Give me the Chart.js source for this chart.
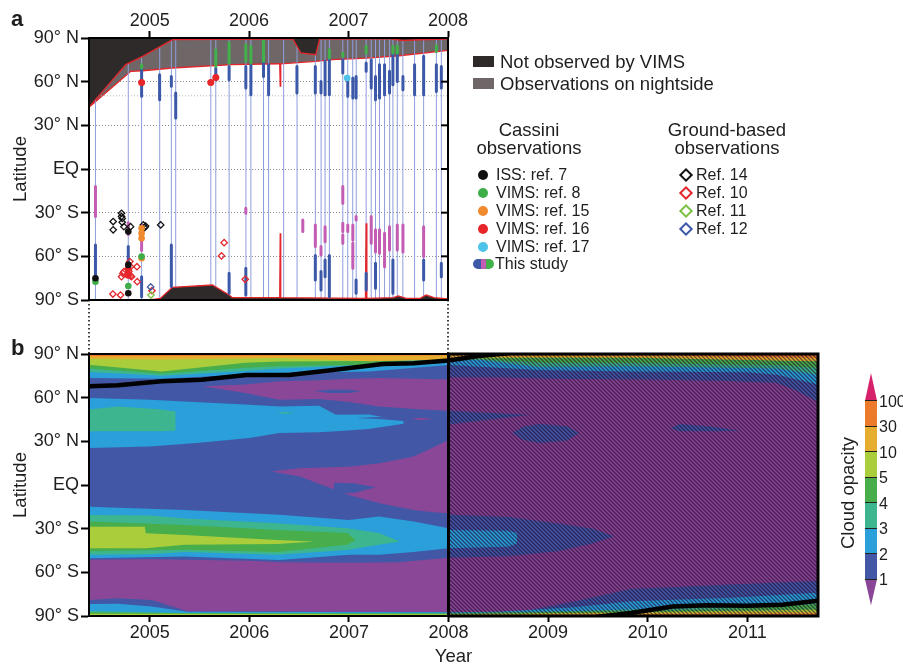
<!DOCTYPE html>
<html lang="en"><head><meta charset="utf-8"><title>Cloud opacity</title>
<script src="https://cdn.jsdelivr.net/npm/chart.js@4.4.1/dist/chart.umd.min.js"></script>
<style>
 html,body{margin:0;padding:0;background:#fff}
 body{position:relative;width:903px;height:666px;overflow:hidden;font-family:"Liberation Sans",Arial,Helvetica,sans-serif;color:#1e1e1e}
 canvas{position:absolute;left:0}
 #ca{top:0} #cb{top:330px}
 .t{position:absolute;white-space:nowrap;line-height:1}
 .lg{font-size:18.5px}
 .it{font-size:16px}
 .hd{font-size:18.5px;text-align:center;width:200px}
 .dot{position:absolute;width:10px;height:10px;border-radius:50%}
 .dia{position:absolute;width:6px;height:6px;border:2px solid;transform:rotate(45deg);background:#fff}
 .sw{position:absolute;width:21px;height:11px}
 .pl{font-weight:bold;font-size:22px}
 .cbs{position:absolute;left:865px;width:12px;box-sizing:border-box}
 .cbl{position:absolute;left:879px;font-size:16px;line-height:1}
</style></head><body>
<canvas id="ca" width="903" height="354"></canvas>
<canvas id="cb" width="903" height="336"></canvas>
<div id="overlay"></div>
<script>
// ================= DATA =================
const latTicks = [-90, -60, -30, 0, 30, 60, 90];
const latTickLabels = ['90° S', '60° S', '30° S', 'EQ', '30° N', '60° N', '90° N'];
const yearTicksA = [2005, 2006, 2007, 2008];
const yearTicksB = [2005, 2006, 2007, 2008, 2009, 2010, 2011];
const yearRangeA = [2004.39, 2008.0];
const yearRangeB = [2004.39, 2011.71];

// panel a: coverage boundaries [year, latitude]
const nightEdge = [[2004.39,42.5],[2004.81,67.1],[2004.93,67.5],[2005.23,69.4],[2005.83,71.7],[2006.30,72.3],[2006.308,72.3],[2006.313,57],[2006.318,72.3],[2006.67,74.0],[2006.84,75.1],[2007.18,76.2],[2007.51,77.8],[2008.0,81.5]];
const darkTopEdge = [[2004.39,42.5],[2004.76,71.7],[2004.93,77.4],[2005.23,88.9],[2006.30,89.3],[2006.44,89.3],[2006.52,79.7],[2006.67,78.5],[2006.71,89.3],[2007.4,89.5],[2007.55,88.3],[2007.7,88.8],[2008.0,89.3]];
const darkBottomEdge = [[2004.39,-90],[2005.0,-90],[2005.107,-88.9],[2005.228,-81.3],[2005.631,-79.7],[2005.799,-86.6],[2005.833,-88.4],[2006.308,-88.4],[2006.313,-44.1],[2006.318,-88.4],[2007.17,-88.9],[2007.177,-37.3],[2007.184,-88.9],[2007.45,-88.4],[2007.5,-87.2],[2007.58,-88.9],[2007.72,-88.9],[2007.78,-86.6],[2007.86,-88.4],[2008.0,-89.3]];
const lat50Line = [[2004.39,50.3],[2008.0,50.3]];
const vlineYears = [2004.455,2004.785,2004.919,2005.101,2005.218,2005.262,2005.615,2005.665,2005.799,2005.968,2006.018,2006.145,2006.196,2006.347,2006.482,2006.666,2006.724,2006.764,2006.807,2006.942,2006.992,2007.042,2007.077,2007.177,2007.228,2007.271,2007.311,2007.362,2007.413,2007.446,2007.490,2007.546,2007.664,2007.755,2007.883,2007.933];

// "This study" segments [year, lat1, lat2]
const studyBlue = [[2004.455,-52.2,-74.0],[2004.785,-53.3,-64.8],[2004.919,69.4,49.9],[2004.919,-74.0,-87.7],[2005.100,64.8,47.6],[2005.218,63.6,56.8],[2005.218,-52.2,-80.8],[2005.262,52.2,35.0],[2005.665,69.4,61.3],[2005.799,70.5,61.3],[2005.799,-71.7,-85.4],[2005.967,70.5,55.6],[2005.967,-68.2,-86.6],[2006.018,71.7,51.0],[2006.145,72.8,63.6],[2006.196,71.7,51.0],[2006.481,70.5,52.2],[2006.666,70.5,52.2],[2006.666,-59.5,-76.2],[2006.723,60.2,52.2],[2006.723,-70.5,-83.1],[2006.764,74.0,51.0],[2006.764,-62.5,-74.0],[2006.807,75.1,51.0],[2006.807,-59.5,-87.7],[2006.942,75.1,65.9],[2006.992,61.3,49.9],[2007.043,62.5,48.7],[2007.076,63.6,48.7],[2007.076,-76.2,-85.4],[2007.177,72.8,67.1],[2007.177,-71.7,-83.1],[2007.228,75.1,55.6],[2007.271,63.6,47.6],[2007.271,-64.8,-82.0],[2007.311,71.7,48.7],[2007.362,71.7,51.0],[2007.412,67.1,52.2],[2007.446,78.5,57.9],[2007.446,-62.5,-85.4],[2007.490,78.5,60.2],[2007.547,63.6,54.5],[2007.664,71.7,51.0],[2007.755,77.4,51.0],[2007.755,-62.5,-76.2],[2007.883,71.7,53.3],[2007.933,70.5,55.6],[2007.933,-64.8,-74.0]];
const studyMagenta = [[2004.455,-12.0,-32.7],[2004.785,-37.0,-45.0],[2004.919,-38.4,-56.0],[2005.967,-27.0,-30.4],[2006.54,-35.0,-43.0],[2006.666,-38.4,-53.3],[2006.723,-53.3,-59.0],[2006.764,-39.6,-49.9],[2006.942,-12.0,-23.5],[2006.942,-37.3,-43.0],[2006.942,-45.3,-51.0],[2006.992,-38.4,-43.0],[2007.043,-38.4,-48.7],[2007.043,-51.0,-68.2],[2007.076,-32.7,-35.0],[2007.228,-32.7,-51.0],[2007.271,-41.8,-57.0],[2007.311,-41.8,-57.9],[2007.362,-44.1,-67.1],[2007.412,-39.6,-55.6],[2007.490,-38.4,-55.6],[2007.547,-38.4,-57.0],[2007.755,-39.6,-60.2]];
const studyGreen = [[2004.919,71.7,69.4],[2005.665,82.0,70.5],[2005.799,86.6,72.8],[2005.967,85.4,74.0],[2006.018,84.3,72.8],[2006.145,87.7,74.0],[2006.807,82.0,76.2],[2006.942,79.7,77.4],[2007.177,84.3,79.7],[2007.446,84.3,79.7],[2007.490,84.7,79.7],[2007.883,84.7,80.8]];

// previous observations [year, latitude]
const issPts = [[2004.455,-75.1],[2004.785,-43.0],[2004.785,-65.9],[2004.785,-85.4]];
const vims8Pts = [[2004.455,-77.4],[2004.785,-80.4],[2004.919,-60.2]];
const vims15Pts = [[2004.919,-40.7],[2004.919,-44.1],[2004.919,-47.6],[2004.919,-61.3]];
const vims16Pts = [[2004.919,59.5],[2005.615,59.5],[2005.665,62.8],[2004.785,-68.5],[2004.785,-73.0]];
const vims17Pts = [[2006.986,62.5]];
const ref14Pts = [[2004.633,-36.1],[2004.633,-41.8],[2004.717,-30.4],[2004.717,-32.6],[2004.724,-34.0],[2004.724,-36.6],[2004.741,-39.6],[2004.808,-39.6],[2004.936,-38.4],[2004.950,-40.2],[2004.959,-39.2],[2005.111,-38.4]];
const ref10Pts = [[2004.630,-85.9],[2004.707,-86.6],[2004.801,-63.6],[2004.808,-67.1],[2004.717,-74.0],[2004.730,-71.7],[2004.741,-70.5],[2004.791,-70.5],[2004.808,-73.5],[2004.818,-74.0],[2004.872,-67.1],[2004.875,-77.4],[2005.023,-83.6],[2005.722,-59.7],[2005.749,-50.6],[2005.961,-75.8]];
const ref11Pts = [[2005.013,-86.6]];
const ref12Pts = [[2005.010,-81.0]];

// panel b: cloud-opacity contour regions [year, lower lat, upper lat]
const opacityLevels = ['<1','1','2','3','4','5','10','30','100'];
const opacityColors = ['#8a4797','#4258a6','#2a9fda','#3db58e','#48ae4b','#aacd3c','#e5ae2f','#eb7b2a','#d6216b'];
const cbLabels = ['100','30','10','5','4','3','2','1'];

const rBase = [[2004.39,-90,90],[2011.71,-90,90]];
const rDB1 = [[2004.39,-51.4,90],[2005.0,-51,90],[2006.0,-52,90],[2006.3,-53,90],[2007.0,-53.5,90],[2007.5,-53,90],[2008.0,-50,90]];
const rDB2 = [[2008.0,74,90],[2008.5,74,90],[2009.0,73,90],[2010.0,72.4,90],[2010.8,71.5,90],[2011.3,70,90],[2011.5,64.5,90],[2011.71,57,90]];
const rDB3 = [[2008.0,-50,-20.3],[2008.6,-49,-22],[2009.1,-45.5,-26.5],[2009.45,-40,-30],[2009.66,-35.2,-35.2]];
const rDB4 = [[2008.0,41.5,51],[2008.42,45,49.5],[2008.82,48.3,48.3]];
const rDB5 = [[2008.64,35.7,35.7],[2008.75,31,40],[2008.92,28.9,41.9],[2009.19,30.5,40.3],[2009.31,35.7,35.7]];
const rDB6 = [[2010.23,39,39],[2010.32,36.9,41.9],[2010.66,36.9,40],[2010.93,37.3,37.3]];
const rDB7 = [[2008.0,-90,-88],[2008.75,-90,-86.7],[2009.26,-90,-80],[2009.83,-90,-71.5],[2010.83,-90,-68.4],[2011.71,-90,-66]];
const rDB8 = [[2004.39,-90,-79],[2004.68,-90,-77.8],[2005.02,-90,-79],[2005.38,-90,-86.8],[2008.0,-90,-87.3]];
const rPU1 = [[2005.53,67.8,67.8],[2005.96,63.2,69],[2006.3,58.5,71.2],[2006.7,59,72],[2007.0,57,73],[2007.3,54,73.5],[2007.7,52,73],[2008.0,51,72.4]];
const rPU2 = [[2007.62,45.4,45.4],[2007.72,44.6,46.2],[2007.85,45.4,45.4]];
const rPUeq = [[2006.22,9.2,9.2],[2006.5,6,11.5],[2007.0,-6.8,12.5],[2007.31,-12.6,15],[2007.65,-17.1,19.5],[2007.85,-18.8,26],[2008.0,-19.4,31]];
const rDBw = [[2006.85,-6,1.5],[2007.05,-5.5,1.2],[2007.27,-1.5,-1.5]];
const rDBi = [[2006.65,64.5,64.5],[2006.8,63.2,65.5],[2007.0,63.2,65.5],[2007.12,64.4,64.4]];
const rLB1 = [[2004.39,25.4,59.8],[2005.0,26.5,58.6],[2005.5,29,56.8],[2006.0,32.3,55.2],[2006.3,35.7,54],[2006.7,36.3,54.5],[2006.87,36.9,48.3],[2007.2,38.5,48.5],[2007.55,42,44]];
const rLB2 = [[2004.39,-50.3,-14.9],[2005.35,-49.2,-17.1],[2006.3,-51.5,-20.5],[2007.0,-48,-24],[2007.3,-48,-21.7],[2007.65,-46,-25],[2008.0,-43.5,-29.7]];
const rLB3 = [[2008.0,-43.5,-31],[2008.6,-42.5,-31.5],[2008.69,-40,-33]];
const rLBn = [[2004.39,73.5,90],[2005.12,73,90],[2005.96,76,90],[2006.3,77,90],[2007.2,78,90],[2008.0,82.5,90],[2008.9,79,90],[2009.83,78,90],[2011.0,77.5,90],[2011.3,75.8,90],[2011.71,69,90]];
const rLBs = [[2004.39,-90,-81.7],[2004.68,-90,-81.5],[2005.02,-90,-83.5],[2005.38,-90,-87],[2008.0,-90,-87.5],[2008.5,-90,-87],[2009.26,-90,-84],[2009.83,-90,-79.9],[2010.83,-90,-77.5],[2011.71,-90,-74]];
const rDBn = [[2007.07,46,46],[2007.3,45.3,46.7],[2007.55,44,46]];
const rT1 = [[2004.39,-48,-20.6],[2005.0,-47.5,-21],[2005.35,-46,-23],[2006.28,-48,-26.3],[2006.98,-44.6,-29.7],[2007.3,-41,-33],[2007.51,-38.9,-38.9]];
const rT2 = [[2004.39,37,51.8],[2004.68,37,54],[2005.12,36.9,51.8],[2005.26,37.5,50.5]];
const rTsm = [[2006.28,49.5,49.5],[2006.35,49,50.2],[2006.45,49.5,49.5]];
const rTn = [[2004.39,77.6,90],[2005.12,75,90],[2005.96,78.3,90],[2006.3,80,90],[2007.2,82.7,90],[2007.6,85,90],[2008.0,85.5,90],[2008.3,86,90],[2008.9,81,90],[2009.83,81.5,90],[2011.3,80,90],[2011.71,75.8,90]];
const rTs = [[2004.39,-90,-86.5],[2005.38,-90,-88],[2008.0,-90,-88],[2009.26,-90,-86.5],[2009.83,-90,-85.6],[2010.83,-90,-83],[2011.71,-90,-80]];
const rG1 = [[2004.39,-45.5,-25],[2005.35,-44.5,-27.5],[2006.28,-46,-30.9],[2006.98,-41,-33],[2007.07,-37.8,-37.8]];
const rGn = [[2004.39,80,90],[2005.12,76.5,90],[2005.96,80.5,90],[2006.3,81.5,90],[2007.2,82.7,90],[2007.6,86,90],[2008.0,86.5,90],[2008.3,86.5,90],[2008.9,84,90],[2009.83,83.8,90],[2011.3,82.5,90],[2011.71,80.4,90]];
const rGs = [[2004.39,-90,-87.4],[2005.38,-90,-88.1],[2008.0,-90,-88.2],[2009.83,-90,-86.5],[2010.83,-90,-85],[2011.71,-90,-82]];
const rYG1 = [[2004.39,-43.5,-28.6],[2004.95,-43.5,-28.6],[2004.96,-43.5,-33.2],[2005.35,-41,-34.3],[2006.28,-40.5,-37.8],[2006.63,-38.9,-38.9]];
const rYGn = [[2004.39,82.7,90],[2005.12,78,90],[2005.96,84,90],[2006.3,84.9,90],[2007.2,85.2,90],[2008.0,86.7,90],[2009.0,87.5,90],[2010.0,87.3,90],[2011.71,85,90]];
const rYGs = [[2004.39,-90,-88.4],[2008.0,-90,-88.8],[2009.83,-90,-87.5],[2011.71,-90,-85.5]];
const rYn = [[2004.39,86.8,90],[2005.12,86.3,90],[2006.3,87.2,90],[2007.2,85,90],[2008.0,86,90],[2008.1,88,90],[2010.0,87.5,90],[2011.71,85,90]];
const rYs = [[2004.39,-90,-89.3],[2008.0,-90,-89.3],[2009.0,-90,-88.5],[2009.83,-90,-88],[2011.71,-90,-87.3]];
const rOn = [[2004.39,88.4,90],[2008.0,89,90],[2010.0,89,90],[2011.71,87.3,90]];
const rOs = [[2004.39,-90,-89.8],[2008.0,-90,-89.7],[2009.0,-90,-89.3],[2011.71,-90,-88.5]];
const rHatch = [[2008.0,-90,90],[2011.71,-90,90]];
const hatchBox = [[2008.0,-90],[2008.0,90],[2011.71,90],[2011.71,-90],[2008.0,-90]];

// black terminator lines [year, latitude]
const northTerminator = [[2004.39,67.8],[2004.68,68.5],[2005.12,71.2],[2005.52,72.3],[2005.97,75.6],[2006.4,75.6],[2006.84,79],[2007.34,83.1],[2007.65,83.7],[2008.0,85.6],[2008.3,88.6],[2008.6,90.5]];
const southTerminator = [[2009.5,-90.5],[2009.83,-88],[2010.25,-83.5],[2010.6,-82.6],[2011.0,-83],[2011.35,-82.3],[2011.71,-79.5]];

// ================= HELPERS =================
Chart.defaults.font.family = '"Liberation Sans", Arial, Helvetica, sans-serif';
Chart.defaults.color = '#1e1e1e';
const P = arr => arr.map(p => ({x: p[0], y: p[1]}));
function segData(list) { const out = []; list.forEach(s => out.push({x:s[0],y:s[1]},{x:s[0],y:s[2]},{x:s[0],y:null})); return out; }
const vlineData = []; vlineYears.forEach(t => vlineData.push({x:t,y:-90},{x:t,y:90},{x:t,y:null}));
const latLabel = v => { const i = latTicks.indexOf(v); return i >= 0 ? latTickLabels[i] : ''; };

function makeFrame(rightTicks, connectors) {
  return { id: 'frame', afterDatasetsDraw(chart) {
    const {ctx, chartArea: a} = chart;
    ctx.save();
    ctx.strokeStyle = '#000'; ctx.lineWidth = 2; ctx.setLineDash([]);
    ctx.strokeRect(a.left, a.top, a.right - a.left, a.bottom - a.top);
    if (rightTicks) {
      const ys = chart.scales.y;
      latTicks.forEach(v => { const y = ys.getPixelForValue(v); ctx.beginPath(); ctx.moveTo(a.right, y); ctx.lineTo(a.right - 7, y); ctx.stroke(); });
    }
    if (connectors) {
      ctx.setLineDash([1.5, 2.5]); ctx.lineWidth = 1.5;
      [a.left, a.right].forEach(x => { ctx.beginPath(); ctx.moveTo(x, a.bottom); ctx.lineTo(x, chart.height); ctx.stroke(); });
    }
    ctx.restore();
  }};
}

function yScale(grid) {
  return { type:'linear', min:-90, max:90,
    afterBuildTicks: s => { s.ticks = latTicks.map(v => ({value: v})); },
    afterFit: s => { s.width = 89; },
    ticks: { callback: v => latLabel(v), font:{size:18}, padding:2, autoSkip:false, color:'#1e1e1e' },
    grid: { drawOnChartArea: grid, color:'#8c8c8c', lineWidth:1, tickLength:8, tickWidth:2, tickColor:'#000' },
    border: { dash:[1,2], color:'#000', width:2 },
    title: { display:true, text:'Latitude', font:{size:18.5}, padding:{top:10, bottom:0}, color:'#1e1e1e' }
  };
}

// ================= PANEL A =================
function markerDs(pts, style, fillC, strokeC, r, bw, ord) {
  return { data: P(pts), showLine:false, pointStyle:style, pointRadius:r, pointBackgroundColor:fillC, pointBorderColor:strokeC, pointBorderWidth:bw, fill:false, order:ord };
}
const dsA = [
  { data: P(nightEdge), borderColor:'#e3262b', borderWidth:1.3, backgroundColor:'#6f6767', fill:'end', pointRadius:0, order:100 },
  { data: P(lat50Line), borderColor:'#b5b5b5', borderDash:[1,2], borderWidth:1, pointRadius:0, fill:false, order:95 },
  { data: vlineData, borderColor:'#8f9edc', borderWidth:1, pointRadius:0, fill:false, spanGaps:false, order:90 },
  { data: P(darkTopEdge), borderColor:'#e3262b', borderWidth:1.3, backgroundColor:'#2e2a2a', fill:'end', pointRadius:0, order:80 },
  { data: P(darkBottomEdge), borderColor:'#e3262b', borderWidth:1.3, backgroundColor:'#2e2a2a', fill:'start', pointRadius:0, order:70 },
  { data: segData(studyBlue), borderColor:'#3c58a8', borderWidth:3, borderCapStyle:'round', pointRadius:0, fill:false, spanGaps:false, order:50 },
  { data: segData(studyMagenta), borderColor:'#c25db3', borderWidth:3, borderCapStyle:'round', pointRadius:0, fill:false, spanGaps:false, order:49 },
  { data: segData(studyGreen), borderColor:'#43b14b', borderWidth:3, borderCapStyle:'round', pointRadius:0, fill:false, spanGaps:false, order:48 },
  markerDs(ref10Pts, 'rectRot', 'rgba(255,255,255,0)', '#e3262b', 3.2, 1.3, 20),
  markerDs(ref14Pts, 'rectRot', 'rgba(255,255,255,0)', '#111', 3.2, 1.3, 19),
  markerDs(ref11Pts, 'rectRot', 'rgba(255,255,255,0)', '#7cc142', 3.2, 1.3, 18),
  markerDs(ref12Pts, 'rectRot', 'rgba(255,255,255,0)', '#3c58a8', 3.2, 1.3, 17),
  markerDs(vims15Pts, 'circle', '#f08a2c', '#f08a2c', 3.3, 0, 16),
  markerDs(vims16Pts, 'circle', '#e8262a', '#e8262a', 3.5, 0, 15),
  markerDs(vims8Pts, 'circle', '#3fae49', '#3fae49', 3.3, 0, 14),
  markerDs(vims17Pts, 'circle', '#4cc3e8', '#4cc3e8', 3.3, 0, 13),
  markerDs(issPts, 'circle', '#111', '#111', 3.3, 0, 12)
];

new Chart(document.getElementById('ca'), {
  type:'line', data:{datasets: dsA},
  options:{ responsive:false, animation:false, events:[],
    layout:{padding:{left:0, top:0, right:455, bottom:54}},
    elements:{line:{tension:0}, point:{radius:0, hitRadius:0}},
    plugins:{legend:{display:false}, tooltip:{enabled:false}},
    scales:{
      x:{ type:'linear', position:'top', min:yearRangeA[0], max:yearRangeA[1],
        afterBuildTicks: s => { s.ticks = yearTicksA.map(v => ({value:v})); },
        afterFit: s => { s.height = 38; },
        ticks:{ callback: v => String(v), font:{size:18, lineHeight:1}, padding:1, maxRotation:0, autoSkip:false, color:'#1e1e1e' },
        grid:{ drawOnChartArea:false, tickLength:7, tickWidth:2, tickColor:'#000' },
        border:{ color:'#000', width:2 } },
      y: yScale(true)
    }
  },
  plugins:[makeFrame(true, true)]
});

// ================= PANEL B =================
function hatchPattern() {
  const c = document.createElement('canvas'); c.width = 4; c.height = 4;
  const g = c.getContext('2d');
  g.strokeStyle = 'rgba(25,0,35,0.6)'; g.lineWidth = 1.3;
  g.beginPath(); g.moveTo(-1,-1); g.lineTo(5,5); g.moveTo(-1,3); g.lineTo(1,5); g.moveTo(3,-1); g.lineTo(5,1); g.stroke();
  return g.createPattern(c, 'repeat');
}
const C = opacityColors;
const layersB = [
  [rBase,C[0]],
  [rDB1,C[1]],[rDB2,C[1]],[rDB3,C[1]],[rDB4,C[1]],[rDB5,C[1]],[rDB6,C[1]],[rDB7,C[1]],[rDB8,C[1]],
  [rPU1,C[0]],[rPU2,C[0]],[rPUeq,C[0]],
  [rDBw,C[1]],[rDBi,C[1]],
  [rLB1,C[2]],[rLB2,C[2]],[rLB3,C[2]],[rLBn,C[2]],[rLBs,C[2]],
  [rDBn,C[1]],
  [rT1,C[3]],[rT2,C[3]],[rTsm,C[3]],[rTn,C[3]],[rTs,C[3]],
  [rG1,C[4]],[rGn,C[4]],[rGs,C[4]],
  [rYG1,C[5]],[rYGn,C[5]],[rYGs,C[5]],
  [rYn,C[6]],[rYs,C[6]],
  [rOn,C[7]],[rOs,C[7]],
  [rHatch,hatchPattern()]
];
const dsB = [];
layersB.forEach((L, i) => {
  const ord = 5000 - i * 10;
  dsB.push({ data: L[0].map(p => ({x:p[0], y:p[1]})), borderColor:'rgba(0,0,0,0)', borderWidth:0, pointRadius:0, fill:false, order:ord });
  dsB.push({ data: L[0].map(p => ({x:p[0], y:p[2]})), borderColor:'rgba(0,0,0,0)', borderWidth:0, pointRadius:0, fill:'-1', backgroundColor:L[1], order:ord });
});
dsB.push({ data:P(northTerminator), borderColor:'#000', borderWidth:4.5, pointRadius:0, fill:false, order:20, borderCapStyle:'round' });
dsB.push({ data:P(southTerminator), borderColor:'#000', borderWidth:4.5, pointRadius:0, fill:false, order:19, borderCapStyle:'round' });
dsB.push({ data:P(hatchBox), borderColor:'#000', borderWidth:3, pointRadius:0, fill:false, order:10, clip:false });

new Chart(document.getElementById('cb'), {
  type:'line', data:{datasets: dsB},
  options:{ responsive:false, animation:false, events:[],
    layout:{padding:{left:0, top:24, right:85, bottom:0}},
    elements:{line:{tension:0}, point:{radius:0, hitRadius:0}},
    plugins:{legend:{display:false}, tooltip:{enabled:false}},
    scales:{
      x:{ type:'linear', position:'bottom', min:yearRangeB[0], max:yearRangeB[1],
        afterBuildTicks: s => { s.ticks = yearTicksB.map(v => ({value:v})); },
        afterFit: s => { s.height = 50; },
        ticks:{ callback: v => String(v), font:{size:18, lineHeight:1}, padding:2, maxRotation:0, autoSkip:false, color:'#1e1e1e' },
        grid:{ drawOnChartArea:false, tickLength:6, tickWidth:2, tickColor:'#000' },
        border:{ color:'#000', width:2 },
        title:{ display:true, text:'Year', font:{size:18.5, lineHeight:1}, padding:{top:0, bottom:0}, color:'#1e1e1e' } },
      y: yScale(false)
    }
  },
  plugins:[makeFrame(false, false)]
});

// ================= LEGENDS / LABELS =================
const cassiniItems = [['ISS: ref. 7','#111'],['VIMS: ref. 8','#3fae49'],['VIMS: ref. 15','#f08a2c'],['VIMS: ref. 16','#e8262a'],['VIMS: ref. 17','#4cc3e8']];
const groundItems = [['Ref. 14','#111'],['Ref. 10','#e3262b'],['Ref. 11','#7cc142'],['Ref. 12','#3c58a8']];
const rowY = [175, 193, 211, 229, 247];
let h = '';
h += '<div class="t pl" style="left:11px;top:8px">a</div>';
h += '<div class="t pl" style="left:11px;top:337px">b</div>';
h += '<div class="sw" style="left:473px;top:56px;background:#2e2a2a"></div>';
h += '<div class="t lg" style="left:500px;top:53px">Not observed by VIMS</div>';
h += '<div class="sw" style="left:473px;top:78px;background:#6f6767"></div>';
h += '<div class="t lg" style="left:500px;top:75px">Observations on nightside</div>';
h += '<div class="t hd" style="left:429px;top:121px">Cassini</div>';
h += '<div class="t hd" style="left:429px;top:139px">observations</div>';
h += '<div class="t hd" style="left:627px;top:121px">Ground-based</div>';
h += '<div class="t hd" style="left:627px;top:139px">observations</div>';
cassiniItems.forEach((it, i) => {
  h += `<div class="dot" style="left:478px;top:${rowY[i]-5}px;background:${it[1]}"></div>`;
  h += `<div class="t it" style="left:496px;top:${rowY[i]-8}px">${it[0]}</div>`;
});
h += '<div style="position:absolute;left:473px;top:259px;width:8px;height:10px;background:#3c58a8;border-radius:5px 0 0 5px"></div>';
h += '<div style="position:absolute;left:481px;top:259px;width:5px;height:10px;background:#c25db3"></div>';
h += '<div style="position:absolute;left:486px;top:259px;width:8px;height:10px;background:#43b14b;border-radius:0 5px 5px 0"></div>';
h += '<div class="t it" style="left:495px;top:256px">This study</div>';
groundItems.forEach((it, i) => {
  h += `<div class="dia" style="left:681px;top:${rowY[i]-5}px;border-color:${it[1]}"></div>`;
  h += `<div class="t it" style="left:696px;top:${rowY[i]-8}px">${it[0]}</div>`;
});
// colour bar
const cbTop = 400.7, cbStep = 25.5;
h += `<div class="cbs" style="top:373px;height:${cbTop-373}px;background:${C[8]};clip-path:polygon(50% 0,100% 100%,0 100%)"></div>`;
for (let k = 0; k < 7; k++) {
  h += `<div class="cbs" style="top:${cbTop+k*cbStep}px;height:${cbStep}px;background:${C[7-k]}"></div>`;
}
const cbBot = cbTop + 7*cbStep;
h += `<div class="cbs" style="top:${cbBot}px;height:26px;background:${C[0]};clip-path:polygon(0 0,100% 0,50% 100%)"></div>`;
for (let k = 0; k < 8; k++) {
  h += `<div style="position:absolute;left:865px;width:12px;top:${cbTop+k*cbStep-0.5}px;height:1px;background:#222"></div>`;
  h += `<div class="cbl" style="top:${cbTop+k*cbStep-7}px">${cbLabels[k]}</div>`;
}
h += '<div class="t" style="left:768px;top:482px;width:160px;height:22px;line-height:22px;font-size:18.5px;text-align:center;transform:rotate(-90deg)">Cloud opacity</div>';
document.getElementById('overlay').innerHTML = h;
</script>
</body></html>
